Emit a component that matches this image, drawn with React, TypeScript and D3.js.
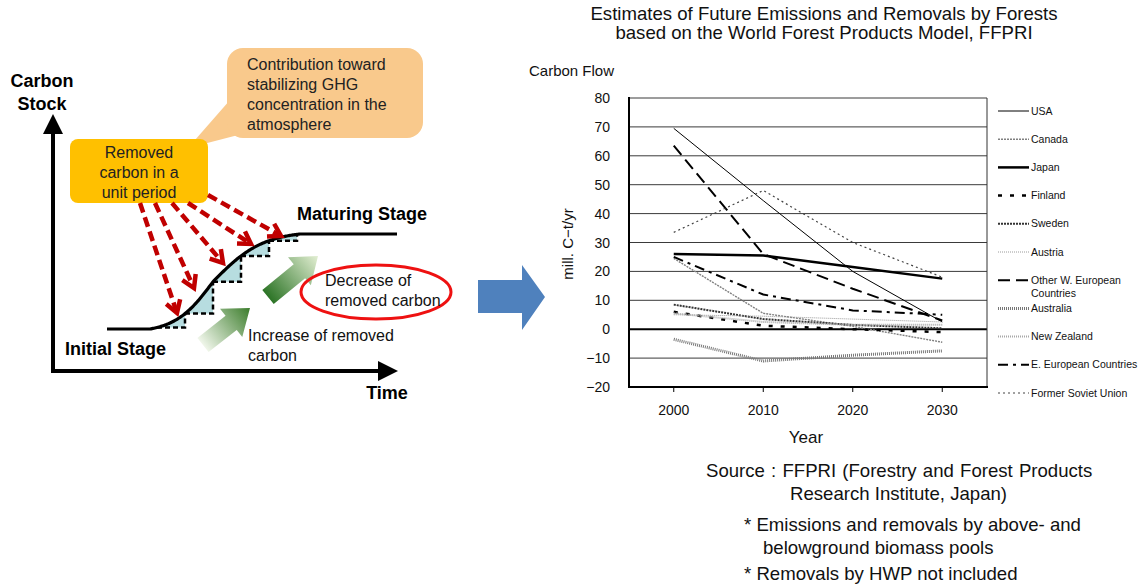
import React from "react";
import * as d3 from "d3";

const years = [2000, 2010, 2020, 2030];
const yTicks = [-20, -10, 0, 10, 20, 30, 40, 50, 60, 70, 80];
const seriesNames = [
  "USA", "Canada", "Japan", "Finland", "Sweden", "Austria",
  "Other W. European|Countries", "Australia", "New Zealand",
  "E. European Countries", "Former Soviet Union",
];
const usa = [69.5, 44.5, 20, 2.5];
const canada = [24.5, 5.5, 1, -4.5];
const japan = [26, 25.5, 21.5, 17.5];
const finland = [6, 1.2, 0, -1];
const sweden = [8.5, 3.5, 1.5, 0.3];
const austria = [5, 4.5, 3.5, 2.5];
const otherWEurope = [63.5, 26, 14, 3];
const australia = [-3.5, -11, -9, -7.5];
const newZealand = [5.5, 2.5, 1.5, 1.5];
const eEurope = [25, 12, 6.5, 5];
const formerSoviet = [33.5, 48, 30, 18];
const seriesValues = [usa, canada, japan, finland, sweden, austria, otherWEurope, australia, newZealand, eEurope, formerSoviet];

const styles = [
  { stroke: "#000", w: 1, dash: "" },
  { stroke: "#808080", w: 1.4, dash: "2,1" },
  { stroke: "#000", w: 2.5, dash: "" },
  { stroke: "#000", w: 2.5, dash: "4,8" },
  { stroke: "#333", w: 2, dash: "2,1" },
  { stroke: "#9a9a9a", w: 1, dash: "1,1" },
  { stroke: "#000", w: 2, dash: "12,6" },
  { stroke: "#777", w: 3, dash: "1,1" },
  { stroke: "#a8a8a8", w: 2, dash: "1,1" },
  { stroke: "#000", w: 2, dash: "10,5,3,5" },
  { stroke: "#444", w: 1.2, dash: "2,3" },
];

const FONT = "Liberation Sans, Arial, Helvetica, sans-serif";

// ---- left illustration geometry ----
const yLow = 329, yHigh = 234, xMid = 213;
function sCurve(x: number) {
  const L = (v: number) => v <= xMid ? 1 / (1 + Math.exp(-(v - xMid) / 19)) : 1 / (1 + Math.exp(-(v - xMid) / 25));
  const a = L(150), b = L(300);
  let s = (L(x) - a) / (b - a);
  if (x < 150) s = 0;
  if (x > 300) s = 1;
  s = Math.max(0, Math.min(1, s));
  return yLow - (yLow - yHigh) * s;
}
const stepXs = [157, 185, 213, 241, 269, 297];
const redArrows = [
  [140, 203, 177, 313],
  [155, 203, 194, 288],
  [172, 203, 223, 263],
  [188, 203, 251, 244],
  [208, 195, 281, 236],
];

function greenArrow(x1: number, y1: number, x2: number, y2: number, id: string) {
  const dx = x2 - x1, dy = y2 - y1;
  const len = Math.hypot(dx, dy);
  const ux = dx / len, uy = dy / len, px = -uy, py = ux;
  const sw = 9, hw = 18, hl = 24;
  const pt = (t: number, n: number) => [x1 + ux * t + px * n, y1 + uy * t + py * n];
  const pts = [pt(0, -sw), pt(len - hl, -sw), pt(len - hl, -hw), pt(len, 0), pt(len - hl, hw), pt(len - hl, sw), pt(0, sw)];
  return <polygon points={pts.map(p => p.join(",")).join(" ")} fill={`url(#${id})`} />;
}

export default function App() {
  const x = d3.scalePoint<number>().domain(years).range([629, 987]).padding(0.5);
  const y = d3.scaleLinear().domain([-20, 80]).range([387, 98]);
  const line = d3.line<number>().x((_, i) => x(years[i]) as number).y(d => y(d));

  const curveX = d3.range(107, 398, 1);
  const curvePath = d3.line<number>().x(d => d).y(d => sCurve(d))(curveX) as string;

  const legendY0 = 111, legendStep = 28.2;

  return (
    <svg width={1139} height={584} style={{ position: "absolute", left: 0, top: 0, background: "#fff" }} fontFamily={FONT}>
      <defs>
        <linearGradient id="g1" gradientUnits="userSpaceOnUse" x1={203} y1={345} x2={250} y2={308}>
          <stop offset="0" stopColor="#f0f6ea" />
          <stop offset="1" stopColor="#3c7d2c" />
        </linearGradient>
        <linearGradient id="g2" gradientUnits="userSpaceOnUse" x1={268} y1={297} x2={318} y2={256}>
          <stop offset="0" stopColor="#2c7426" />
          <stop offset="1" stopColor="#e3efd3" />
        </linearGradient>
      </defs>

      {/* ---------- Left illustration ---------- */}
      <polygon points="230,100 242,134 188,148" fill="#f9c98c" />
      <rect x={227} y={48} width={196} height={90} rx={16} fill="#f9c98c" />
      {["Contribution toward", "stabilizing GHG", "concentration in the", "atmosphere"].map((t, i) => (
        <text key={t} x={247} y={70 + i * 20} fontSize={16} fill="#222">{t}</text>
      ))}
      <rect x={70} y={139} width={138} height={64} rx={8} fill="#ffc000" />
      {["Removed", "carbon in a", "unit period"].map((t, i) => (
        <text key={t} x={139} y={158 + i * 20} fontSize={16} textAnchor="middle" fill="#222">{t}</text>
      ))}

      {stepXs.slice(0, -1).map((sx, i) => {
        const nx = stepXs[i + 1];
        const pts = d3.range(sx, nx + 0.5, 1).map(v => [v, sCurve(v)]);
        pts.push([nx, sCurve(sx)]);
        return <polygon key={"f" + i} points={pts.map(p => p.join(",")).join(" ")} fill="#b7dde0" />;
      })}
      {stepXs.slice(0, -1).map((sx, i) => {
        const nx = stepXs[i + 1];
        const y0 = sCurve(sx), y1 = sCurve(nx);
        return <path key={"s" + i} d={`M${sx},${y0}H${nx}V${y1}`} fill="none" stroke="#000" strokeWidth={2.5} strokeDasharray="5,3" />;
      })}
      <path d={curvePath} fill="none" stroke="#000" strokeWidth={3.2} />

      {redArrows.map(([x1, y1, x2, y2], i) => {
        const a = Math.atan2(y2 - y1, x2 - x1);
        const hl = 14, sp = 0.55;
        const p1 = [x2 - hl * Math.cos(a - sp), y2 - hl * Math.sin(a - sp)];
        const p2 = [x2 - hl * Math.cos(a + sp), y2 - hl * Math.sin(a + sp)];
        return (
          <g key={"r" + i} stroke="#c00000" strokeWidth={4.5} fill="none">
            <line x1={x1} y1={y1} x2={x2 - 3 * Math.cos(a)} y2={y2 - 3 * Math.sin(a)} strokeDasharray="10,5" />
            <polyline points={`${p1.join(",")} ${x2},${y2} ${p2.join(",")}`} strokeLinejoin="miter" />
          </g>
        );
      })}

      {greenArrow(203, 345, 250, 308, "g1")}
      {greenArrow(268, 297, 318, 256, "g2")}

      <ellipse cx={376} cy={292} rx={75} ry={27} fill="none" stroke="#ee1111" strokeWidth={3} />
      <text x={325} y={286} fontSize={16} fill="#111">Decrease of</text>
      <text x={325} y={306} fontSize={16} fill="#111">removed carbon</text>
      <text x={248} y={341} fontSize={16} fill="#111">Increase of removed</text>
      <text x={248} y={361} fontSize={16} fill="#111">carbon</text>

      <line x1={53} y1={372} x2={53} y2={130} stroke="#000" strokeWidth={4} />
      <polygon points="43,134 63,134 53,114" fill="#000" />
      <line x1={51} y1={371} x2={380} y2={371} stroke="#000" strokeWidth={4} />
      <polygon points="378,361 378,381 398,371" fill="#000" />
      <text x={42} y={87} fontSize={18} fontWeight="bold" textAnchor="middle">Carbon</text>
      <text x={42} y={110} fontSize={18} fontWeight="bold" textAnchor="middle">Stock</text>
      <text x={387} y={399} fontSize={18} fontWeight="bold" textAnchor="middle">Time</text>
      <text x={65} y={355} fontSize={18} fontWeight="bold">Initial Stage</text>
      <text x={297} y={220} fontSize={18} fontWeight="bold">Maturing Stage</text>

      <polygon points="478,280 522,280 522,265 545,297 522,330 522,313 478,313" fill="#4f81bd" />

      {/* ---------- Chart ---------- */}
      <text x={824} y={20} fontSize={18.6} textAnchor="middle" fill="#111">Estimates of Future Emissions and Removals by Forests</text>
      <text x={824} y={39} fontSize={18.6} textAnchor="middle" fill="#111">based on the World Forest Products Model, FFPRI</text>
      <text x={529} y={76} fontSize={15} fill="#111">Carbon Flow</text>

      {yTicks.map(t => (
        <line key={"g" + t} x1={629} x2={987} y1={y(t)} y2={y(t)} stroke={t === 0 ? "#000" : "#3a3a3a"} strokeWidth={t === 0 ? 2 : 1} />
      ))}
      <line x1={987} x2={987} y1={98} y2={387} stroke="#333" strokeWidth={1} />
      <line x1={629} x2={629} y1={97} y2={388} stroke="#000" strokeWidth={2} />
      <line x1={628} x2={988} y1={387} y2={387} stroke="#000" strokeWidth={2} />
      {years.map(yr => (
        <line key={"t" + yr} x1={x(yr)} x2={x(yr)} y1={387} y2={392} stroke="#000" strokeWidth={1} />
      ))}
      {yTicks.map(t => (
        <text key={"yl" + t} x={610} y={y(t) + 5} fontSize={14} textAnchor="end" fill="#111">{t < 0 ? "\u2212" + Math.abs(t) : t}</text>
      ))}
      {years.map(yr => (
        <text key={"xl" + yr} x={x(yr)} y={415} fontSize={14} textAnchor="middle" fill="#111">{yr}</text>
      ))}
      <text x={806} y={443} fontSize={17} textAnchor="middle" fill="#111">Year</text>
      <text transform="translate(573,244) rotate(-90)" fontSize={15} textAnchor="middle" fill="#111">mill. C−t/yr</text>

      {seriesValues.map((vals, i) => (
        <path key={"l" + i} d={line(vals) as string} fill="none" stroke={styles[i].stroke} strokeWidth={styles[i].w} strokeDasharray={styles[i].dash || undefined} />
      ))}

      {seriesNames.map((n, i) => {
        const ly = legendY0 + i * legendStep;
        const parts = n.split("|");
        return (
          <g key={"lg" + i}>
            <line x1={998} x2={1029} y1={ly} y2={ly} stroke={styles[i].stroke} strokeWidth={styles[i].w} strokeDasharray={styles[i].dash || undefined} />
            {parts.map((p, j) => (
              <text key={p} x={1031} y={ly + 3.5 + j * 13} fontSize={10.5} fill="#111">{p}</text>
            ))}
          </g>
        );
      })}

      <text x={706} y={477} fontSize={18.6} fill="#111" style={{ wordSpacing: "1px" }}>Source : FFPRI (Forestry and Forest Products</text>
      <text x={790} y={500} fontSize={18.6} fill="#111">Research Institute, Japan)</text>
      <text x={744} y={531} fontSize={18.6} fill="#111">* Emissions and removals by above- and</text>
      <text x={763} y={554} fontSize={18.6} fill="#111">belowground biomass pools</text>
      <text x={744} y={580} fontSize={18.6} fill="#111">* Removals by HWP not included</text>
    </svg>
  );
}
